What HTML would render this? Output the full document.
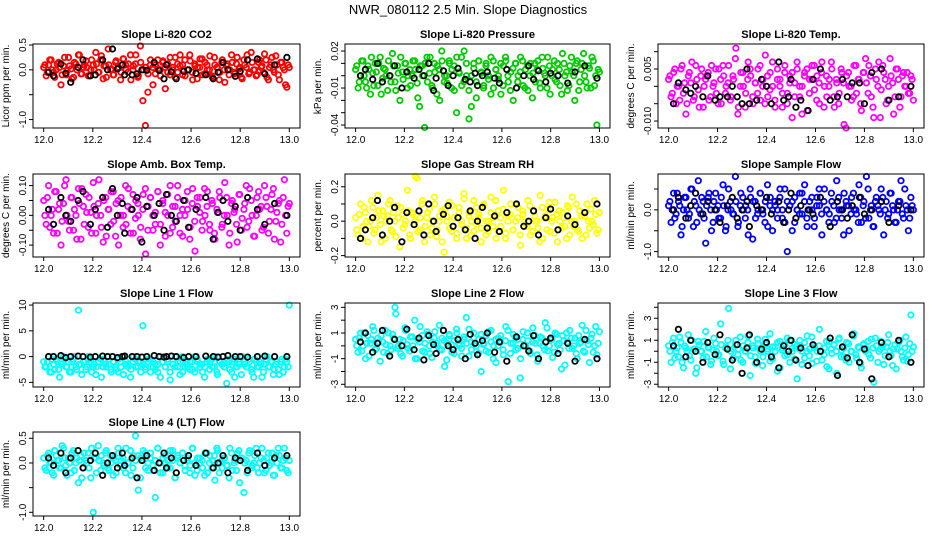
<!DOCTYPE html>
<html><head><meta charset="utf-8">
<style>
html,body{margin:0;padding:0;background:#fff;}
svg{display:block;font-family:"Liberation Sans",Arial,sans-serif;}
</style></head>
<body>
<svg id="chart" width="936" height="540" viewBox="0 0 936 540">
<text x="468" y="14" text-anchor="middle" font-size="13">NWR_080112  2.5 Min. Slope Diagnostics</text>
</svg>
<script>
// ---- shared data ----
const xTicks = [12.0, 12.2, 12.4, 12.6, 12.8, 13.0];
const xTickLabels = ["12.0","12.2","12.4","12.6","12.8","13.0"];
const blackX = [12.02,12.04,12.07,12.09,12.11,12.14,12.16,12.19,12.21,12.24,12.26,12.28,12.30,12.32,12.33,12.36,12.38,12.40,12.42,12.45,12.47,12.49,12.50,12.52,12.54,12.57,12.59,12.62,12.66,12.69,12.71,12.73,12.75,12.78,12.80,12.83,12.87,12.90,12.94,12.99];

const titles = ["Slope Li-820 CO2","Slope Li-820 Pressure","Slope Li-820 Temp.","Slope Amb. Box Temp.","Slope Gas Stream RH","Slope Sample Flow","Slope Line 1 Flow","Slope Line 2 Flow","Slope Line 3 Flow","Slope Line 4 (LT) Flow"];
const yLabels = ["Licor ppm per min.","kPa per min.","degrees C per min.","degrees C per min.","percent per min.","ml/min per min.","ml/min per min.","ml/min per min.","ml/min per min.","ml/min per min."];
const colors = ["#ff0000","#00cd00","#ff00ff","#ff00ff","#ffff00","#0000ff","#00ffff","#00ffff","#00ffff","#00ffff"];

const yTicks0 = [-1.0,-0.5,0.0,0.5]; const yTickLabels0 = ["-1.0","","0.0","0.5"];
const yTicks1 = [-0.04,-0.03,-0.02,-0.01,0.0,0.01,0.02]; const yTickLabels1 = ["-0.04","","","-0.01","","","0.02"];
const yTicks2 = [-0.010,-0.005,0.0,0.005,0.010]; const yTickLabels2 = ["-0.010","","","0.005",""];
const yTicks3 = [-0.10,-0.05,0.0,0.05,0.10]; const yTickLabels3 = ["-0.10","","0.00","","0.10"];
const yTicks4 = [-0.2,-0.1,0.0,0.1,0.2]; const yTickLabels4 = ["-0.2","","0.0","","0.2"];
const yTicks5 = [-1.0,-0.5,0.0,0.5]; const yTickLabels5 = ["-1.0","","0.0",""];
const yTicks6 = [-5,0,5,10]; const yTickLabels6 = ["-5","0","5","10"];
const yTicks7 = [-3,-2,-1,0,1,2,3]; const yTickLabels7 = ["-3","","-1","","1","","3"];
const yTicks8 = [-3,-2,-1,0,1,2,3,4]; const yTickLabels8 = ["-3","","-1","","1","","3",""];
const yTicks9 = [-1.0,-0.5,0.0,0.5]; const yTickLabels9 = ["-1.0","","0.0","0.5"];

const yMin = [-1.17,-0.0424,-0.012,-0.140,-0.208,-1.13,-5.9,-3.21,-3.25,-1.075];
const yMax = [0.52,0.0257,0.0122,0.139,0.274,0.86,10.4,3.34,4.39,0.628];

const vals0 = [0.05,-0.12,0.1,0.2,-0.05,0.0,0.15,-0.3,0.08,-0.1,0.25,0.02,-0.15,0.12,0.3,-0.08,0.05,0.18,-0.12,0.0,0.1,0.35,-0.05,0.2,-0.18,0.08,0.42,0.0,-0.1,0.15,0.05,-0.2,0.22,0.1,-0.05,0.3,0.0,0.12,-0.15,0.48,-0.62,-1.12,-0.45,0.1,0.05,-0.08,0.2,0.0,0.15,-0.38,0.12,-0.1,0.05,0.25,-0.05,0.3,0.1,-0.12,0.0,0.18,-0.2,0.08,0.05,0.22,-0.1,0.15,0.0,0.28,-0.15,0.1,0.05,-0.05,0.2,-0.25,0.12,0.0,0.15,-0.08,0.25,0.05,-0.18,0.1,0.3,-0.05,0.15,0.0,-0.1,0.2,0.08,0.32,-0.15,0.05,0.25,-0.05,0.1,-0.2,0.15,0.0,-0.35,0.05];
const valsB0 = [0.1,-0.05,0.2,0.0,-0.15,0.12,0.05,-0.1,0.25,-0.02,0.08,-0.18,0.15,0.0,0.3,-0.08,0.1,0.05,-0.12,0.2,0.0,0.12,-0.05,0.28,0.08,-0.15,0.1,0.02,-0.1,0.18,0.05,-0.05,0.22,0.0,0.12,-0.2,0.08,0.3,-0.12,0.15,0.0,0.05,-0.08,0.2,-0.3,0.1,0.02,-0.12,0.18,0.05,-0.05,0.25,0.0,-0.15,0.12,0.08,-0.1,0.2,0.0,0.3,-0.05,0.12,-0.18,0.05,0.22,-0.08,0.1,0.0,-0.12,0.25,0.05,-0.2,0.15,0.0,0.08,-0.1,0.3,-0.05,0.12,0.02,-0.15,0.2,0.05,-0.08,0.35,0.0,-0.12,0.15,0.05,-0.05,0.2,-0.2,0.1,0.0,0.28,-0.1,0.15,0.05,-0.3,0.1];
const black0 = [-0.05,-0.12,0.12,-0.07,-0.25,0.05,0.2,-0.12,-0.1,0.2,0.0,0.42,0.02,0.1,-0.1,-0.1,-0.08,0.0,-0.01,0.15,-0.01,-0.18,0.1,-0.04,-0.18,-0.03,0.0,-0.07,-0.1,-0.18,-0.05,0.15,0.0,-0.13,-0.03,0.2,0.22,-0.08,0.1,0.25];
const vals1 = [0.005,-0.01,0.0,0.012,-0.005,0.008,-0.015,0.002,0.01,-0.008,0.015,-0.002,0.005,-0.012,0.0,0.018,-0.005,0.008,-0.02,0.003,0.01,-0.01,0.005,0.0,0.012,-0.006,-0.025,0.008,-0.042,0.015,0.002,-0.008,0.01,-0.015,0.005,0.02,-0.005,0.0,0.012,-0.01,0.008,-0.03,0.003,0.015,-0.005,0.01,-0.012,0.0,0.006,-0.018,0.012,0.002,-0.008,0.01,-0.003,0.015,-0.01,0.005,0.0,-0.015,0.008,0.012,-0.005,0.003,-0.02,0.01,0.0,0.015,-0.008,0.005,-0.012,0.01,0.002,-0.005,0.012,-0.01,0.006,0.0,0.015,-0.015,0.005,-0.003,0.01,-0.008,0.018,0.0,-0.012,0.008,0.003,-0.02,0.012,-0.005,0.01,0.0,-0.01,0.006,0.015,-0.008,-0.04,0.003];
const valsB1 = [0.008,-0.005,0.012,0.0,-0.01,0.005,0.015,-0.008,0.003,0.01,-0.015,0.006,0.0,0.012,-0.005,0.008,-0.012,0.002,0.015,-0.003,0.01,0.0,-0.008,0.012,0.005,-0.018,0.008,0.0,0.01,-0.005,0.015,-0.01,0.003,0.008,-0.02,0.012,0.0,-0.006,0.01,0.005,-0.012,0.015,0.002,-0.008,0.02,0.0,-0.035,-0.025,0.01,-0.005,0.012,0.003,-0.01,0.008,0.0,-0.015,0.012,0.005,-0.003,0.01,-0.008,0.015,0.0,-0.012,0.006,0.01,-0.005,0.003,0.012,-0.01,0.008,0.0,-0.018,0.01,0.005,-0.006,0.015,0.002,-0.01,0.008,0.0,0.012,-0.005,0.005,-0.015,0.01,0.003,-0.008,0.015,0.0,0.01,-0.012,0.005,0.018,-0.005,0.008,-0.01,0.012,0.0,0.005];
const black1 = [0.0,0.005,-0.003,0.01,-0.005,0.0,0.008,-0.01,0.003,-0.002,0.005,0.0,0.01,-0.012,-0.002,0.004,-0.008,0.0,0.006,-0.003,-0.005,0.002,-0.008,0.0,0.003,-0.002,-0.006,0.005,-0.01,0.0,0.008,-0.003,0.004,-0.005,0.002,0.0,-0.006,0.003,0.008,-0.002];
const vals2 = [0.002,-0.003,0.004,-0.005,0.0,0.005,-0.002,-0.008,0.003,0.001,-0.004,0.006,-0.001,0.003,-0.006,0.002,0.004,-0.003,0.0,0.005,-0.005,0.002,0.006,-0.002,0.001,-0.004,0.003,0.008,-0.008,0.0,0.004,-0.006,0.002,0.005,-0.003,0.001,-0.002,0.006,0.0,-0.005,0.003,-0.001,0.007,-0.004,0.002,0.0,-0.006,0.004,-0.002,0.003,-0.009,0.001,0.005,-0.003,0.0,0.004,-0.007,0.002,0.006,-0.001,0.003,-0.005,0.007,0.0,-0.003,0.002,0.005,-0.006,0.001,-0.002,0.004,-0.011,0.003,0.0,-0.004,0.006,-0.002,0.002,-0.007,0.004,0.001,0.006,-0.003,-0.009,0.002,0.007,-0.001,0.004,-0.005,0.0,0.003,-0.008,0.005,0.002,-0.003,0.004,0.0,-0.002,0.003,-0.004];
const valsB2 = [0.003,-0.002,0.005,0.0,-0.004,0.006,0.001,-0.005,0.004,0.007,-0.003,0.002,-0.006,0.005,0.0,0.003,-0.004,0.006,0.001,-0.002,0.005,-0.005,0.003,0.0,0.006,-0.003,0.002,0.011,-0.006,0.004,0.0,-0.002,0.007,0.003,-0.005,0.001,0.005,-0.004,0.002,0.009,-0.003,0.004,0.0,-0.006,0.005,0.002,-0.002,0.006,-0.005,0.001,0.004,-0.003,0.007,0.0,-0.008,0.003,0.005,-0.002,0.002,0.006,-0.004,0.001,0.004,-0.006,0.003,0.0,0.007,-0.003,0.002,-0.005,0.005,0.001,-0.012,0.004,0.0,-0.003,0.006,0.002,-0.005,0.004,0.008,-0.002,0.003,-0.006,0.005,0.0,-0.009,0.006,0.002,-0.004,0.008,0.001,-0.003,0.005,-0.006,0.003,0.0,0.004,-0.002,0.002];
const black2 = [-0.005,0.001,-0.001,-0.002,0.0,-0.003,0.003,-0.004,-0.003,-0.003,0.0,-0.003,-0.005,0.005,-0.005,-0.004,0.002,0.0,-0.005,0.007,-0.004,-0.003,0.002,-0.006,-0.004,-0.007,0.002,0.005,-0.004,-0.003,0.002,-0.003,0.001,0.001,-0.005,0.004,0.005,-0.004,-0.003,0.0];
const vals3 = [0.05,-0.03,0.1,0.0,-0.06,0.08,0.02,-0.1,0.04,0.12,-0.02,0.06,-0.05,0.0,0.09,-0.08,0.03,0.07,-0.04,0.01,0.11,-0.06,0.04,0.0,-0.09,0.06,0.02,-0.03,0.08,-0.07,0.05,0.0,-0.04,0.1,0.03,-0.06,0.07,-0.01,0.04,-0.08,0.02,0.09,-0.05,0.06,0.0,-0.03,0.08,-0.1,0.04,0.01,0.07,-0.06,0.03,-0.02,0.1,0.0,-0.07,0.05,0.02,-0.04,0.09,-0.12,0.03,0.06,-0.02,0.0,0.08,-0.05,0.04,-0.08,0.01,0.06,-0.03,0.11,0.0,-0.06,0.05,0.02,-0.09,0.07,-0.01,0.04,-0.04,0.09,0.0,-0.07,0.06,0.02,-0.05,0.1,0.03,-0.02,0.07,-0.08,0.01,0.05,-0.03,0.12,-0.06,0.04];
const valsB3 = [0.0,0.06,-0.04,0.02,0.08,-0.06,0.04,-0.02,0.1,0.0,-0.05,0.06,0.02,-0.08,0.04,0.09,-0.03,0.01,0.06,-0.06,0.03,0.0,0.12,-0.04,0.05,-0.07,0.02,0.08,-0.02,0.04,-0.1,0.06,0.0,-0.03,0.09,0.02,-0.06,0.05,0.0,-0.04,0.07,-0.13,0.03,0.06,-0.05,0.01,0.08,-0.03,0.05,-0.07,0.0,0.1,-0.04,0.03,0.06,-0.06,0.02,0.0,0.08,-0.08,0.04,-0.02,0.06,0.01,-0.05,0.09,0.03,-0.03,0.05,-0.06,0.02,0.08,-0.04,0.0,0.06,-0.1,0.04,0.01,-0.03,0.07,-0.05,0.02,0.1,-0.02,0.05,-0.07,0.0,0.08,0.03,-0.04,0.06,-0.06,0.02,0.09,-0.02,0.04,-0.09,0.06,0.0,0.03];
const black3 = [0.02,-0.03,0.06,0.0,-0.02,0.05,0.08,-0.03,0.02,0.06,-0.04,0.09,0.0,0.04,-0.06,0.02,0.06,-0.09,0.03,0.0,0.04,-0.05,0.07,0.0,-0.02,0.05,-0.04,0.02,0.06,-0.08,0.01,0.05,-0.02,0.03,-0.05,0.06,0.02,-0.03,0.04,0.0];
const vals4 = [0.02,-0.08,0.1,-0.03,0.05,-0.12,0.0,0.08,-0.05,0.15,-0.02,0.06,-0.1,0.03,0.12,-0.06,0.0,0.09,-0.15,0.04,-0.02,0.18,-0.08,0.05,0.0,0.25,-0.05,0.1,-0.12,0.02,0.07,-0.04,0.14,-0.09,0.0,0.06,-0.18,0.03,0.11,-0.06,0.02,-0.1,0.08,0.0,0.16,-0.04,0.05,-0.08,0.12,-0.02,0.04,-0.12,0.09,0.0,-0.06,0.14,0.02,-0.1,0.06,-0.03,0.18,-0.07,0.03,0.1,-0.05,0.0,0.08,-0.14,0.04,-0.02,0.12,-0.08,0.06,0.0,-0.04,0.15,-0.1,0.03,0.07,-0.06,0.02,0.11,-0.12,0.0,0.05,-0.03,0.09,-0.08,0.14,0.0,-0.05,0.06,-0.1,0.03,0.1,-0.04,0.0,0.12,-0.07,0.05];
const valsB4 = [-0.05,0.04,-0.1,0.08,0.0,-0.03,0.12,-0.07,0.02,0.06,-0.12,0.03,0.0,0.1,-0.05,0.05,-0.09,0.02,0.08,-0.04,0.0,0.06,-0.1,0.04,0.26,-0.06,0.02,0.12,-0.03,0.05,-0.08,0.0,0.1,-0.05,0.03,-0.12,0.07,0.0,-0.04,0.09,0.02,-0.07,0.05,-0.02,0.13,-0.1,0.03,0.0,-0.06,0.08,0.02,-0.04,0.1,-0.08,0.0,0.05,-0.03,0.12,-0.06,0.02,0.07,-0.1,0.0,0.04,-0.05,0.1,0.02,-0.08,0.06,0.0,-0.03,0.09,-0.06,0.03,0.0,-0.12,0.08,0.02,-0.05,0.11,0.0,-0.07,0.04,0.06,-0.04,0.02,-0.1,0.08,0.0,-0.03,0.1,-0.06,0.03,0.05,-0.08,0.0,0.07,-0.02,0.04,-0.05];
const black4 = [-0.1,-0.05,0.02,0.12,-0.08,0.0,0.08,-0.12,0.05,-0.02,0.06,-0.08,0.1,0.0,-0.06,0.04,0.09,-0.03,0.02,-0.05,0.06,-0.1,0.0,0.08,-0.04,0.03,-0.06,0.05,0.1,-0.03,0.0,0.06,-0.08,0.02,0.07,-0.05,0.03,-0.02,0.05,0.1];
const vals5 = [0.1,-0.3,0.4,-0.1,0.2,-0.6,0.0,0.3,-0.2,0.5,-0.4,0.1,0.7,-0.1,0.2,-0.8,0.3,0.0,-0.3,0.4,0.1,-0.2,0.6,-0.5,0.0,0.2,-0.1,0.8,-0.4,0.1,0.3,-0.2,0.0,0.5,-0.7,0.2,-0.1,0.4,0.0,-0.3,0.6,0.1,-0.5,0.2,0.0,0.3,-0.2,0.5,-1.0,0.1,0.2,-0.3,0.0,0.4,-0.1,0.6,-0.4,0.2,0.0,-0.2,0.3,0.1,-0.6,0.5,0.0,-0.1,0.2,-0.3,0.7,0.0,-0.2,0.4,0.1,-0.5,0.3,0.0,-0.1,0.6,-0.3,0.2,0.8,-0.2,0.1,-0.4,0.3,0.0,0.5,-0.6,0.2,-0.1,0.4,0.0,-0.3,0.2,0.7,-0.2,0.1,-0.5,0.3,0.0];
const valsB5 = [0.2,0.0,-0.2,0.4,0.1,-0.4,0.3,0.0,-0.1,0.5,0.2,-0.3,0.0,0.3,-0.2,0.1,0.4,-0.5,0.2,0.0,-0.2,0.3,0.1,-0.4,0.5,0.0,-0.1,0.2,-0.3,0.4,0.0,0.1,-0.6,0.3,0.2,-0.2,0.0,0.4,-0.1,0.2,-0.4,0.3,0.0,0.1,-0.2,0.5,0.0,-0.3,0.2,0.1,-0.5,0.3,0.0,-0.1,0.4,0.2,-0.2,0.0,0.3,-0.4,0.1,0.5,-0.1,0.2,0.0,-0.3,0.4,0.1,-0.2,0.3,0.0,-0.6,0.2,0.1,-0.1,0.4,0.0,-0.3,0.3,0.1,-0.2,0.5,0.0,-0.4,0.2,0.1,-0.1,0.3,0.0,-0.2,0.4,0.1,-0.3,0.0,0.2,-0.1,0.5,0.0,-0.2,0.1];
const black5 = [0.0,0.3,-0.2,0.1,0.4,-0.1,0.2,0.0,-0.3,0.1,0.3,-0.2,0.0,0.2,-0.4,0.1,0.0,0.3,-0.1,0.2,-0.3,0.0,0.4,-0.2,0.1,0.0,-0.1,0.3,-0.4,0.2,0.0,-0.2,0.1,0.3,-0.1,0.0,0.2,-0.3,0.1,0.0];
const vals6 = [-1,-2,0,-3,-1.5,-0.5,-2.5,-1,0,-2,-1,-3,-0.5,-2,9,-1.5,-1,-2.5,0,-1,-2,-3.5,-1,-0.5,-2,-1.5,0,-2.5,-1,-2,-3,-1,0,-1.5,-2,-4,-1,-0.5,-2,-1,6,-2.5,-1,-0.5,-2,-1.5,-3,0,-1,-2,-1,-4.5,-1.5,0,-2,-1,-3,-0.5,-2,-1,-2.5,0,-1,-1.5,-3,-2,-0.5,-1,-2,0,-3.5,-1,-1.5,-2,-0.5,-2.5,-1,-4,-2,-1,0,-1.5,-2,-1,-3,-0.5,-2,-1,-4,-1.5,0,-2,-1,-2.5,-1,-3.5,-0.5,-2,-1,10];
const valsB6 = [-2,-1,-3,-0.5,-2.5,-1,-4,-1.5,-0.5,-2,-3,-1,0,-2.5,-1.5,-3.5,-1,-2,-0.5,-3,-1.5,-2,-1,-4,-0.5,-2,-1.5,-3,-1,-2.5,-0.5,-2,-3.5,-1,-1.5,-2.5,0,-2,-1,-3,-1.5,-2,-0.5,-3,-1,-2.5,-1.5,-4,-1,-2,-0.5,-3,-1.5,-2,-1,-3.5,0,-2,-1.5,-2.5,-1,-3,-0.5,-2,-1.5,-4,-1,-2.5,-0.5,-2,-3,-1,-1.5,-2,-5.2,-1,-3,-0.5,-2,-1.5,-3.5,-1,-2,-0.5,-2.5,-4,-1,-2,-1.5,-3,-0.5,-2,-1,-3.5,-1.5,-2.5,-1,-3,-0.5,-2];
const black6 = [0,0,0.2,-0.2,0,0.1,0,-0.1,0,0.1,0,0,-0.2,0,0.1,0,0,-0.1,0,0.2,0,-0.1,0,0.1,0,-0.2,0,0,0.1,0,-0.1,0,0.2,0,0,-0.1,0,0.1,0,0];
const vals7 = [0.5,-0.5,1,0,-1,0.8,0.2,1.5,-0.3,0.6,-1.2,0.3,1.2,-0.6,0,0.9,3,-0.2,0.5,-0.8,1.4,0.1,-0.4,0.7,2,-1,0.3,0.8,-0.5,1.1,0,-0.9,0.6,0.2,1.6,-0.3,0.4,-1.1,0.9,0.1,-0.6,1.3,0.2,-0.2,0.7,2.2,-0.8,0.3,1,-0.4,0.5,-2,0.1,0.8,-0.5,1.2,0,-1.3,0.6,0.3,-0.7,1.5,-2.8,0.2,0.9,-0.3,0.5,-1,1.1,0,0.4,-0.6,1.4,0.2,-1.2,0.7,0,1.8,-0.4,0.5,-0.9,1,0.1,-0.3,0.8,-1.5,0.3,1.2,-0.2,0.6,-1,0.2,1.6,-0.5,0.4,-1.3,0.9,0,-0.7,1.1];
const valsB7 = [0,0.6,-0.4,1,0.2,-0.8,0.5,1.2,-0.2,0.3,0.8,-0.5,0.1,1,-0.3,0.6,2.5,0,-0.6,0.4,1.2,-0.2,0.7,0,-1,0.5,1.5,-0.4,0.2,0.9,-0.6,0.3,1.1,0,-0.3,0.6,-1.6,0.2,0.8,-0.5,0.4,1,0,-0.8,0.5,0.2,1.3,-0.3,0.6,0,-0.6,0.9,0.2,-0.4,1.1,0.3,-1,0.5,0,0.8,-0.3,0.4,1.2,-0.6,0.2,0.7,-0.2,-2.5,0.5,0,1,-0.4,0.3,0.8,-0.7,0.2,0.6,-0.3,1.4,0,0.5,-0.5,0.9,0.2,-1.8,0.4,1,-0.2,0.6,0,-0.6,0.8,0.3,-0.4,1.2,0.1,0.6,-0.5,1.5,0.2];
const black7 = [0.3,1,-0.5,0.2,1.2,-0.8,0.5,0,1.3,-0.3,0.6,-1.1,0.8,0.1,-0.6,1.2,0,-0.3,0.5,-1,0.9,0.2,-0.7,0.4,1,-0.5,0.3,-1.2,0.7,0,-0.4,0.8,-1,0.3,0.6,-0.6,0.2,-1.2,0.5,-1];
const vals8 = [0.5,-1,1.2,0,-0.5,0.8,-1.5,0.3,1.5,-0.8,0.2,-2,0.9,0,-0.6,1.8,0.4,-1.2,0.1,0.7,-0.4,2.5,-0.9,0.3,1,-1.6,0.2,0.6,-0.3,1.3,-1,0,0.8,-2.2,0.5,-0.5,1.1,0.2,-1.3,0.7,0,1.6,-0.7,0.4,-1.8,0.9,0.1,-0.4,1.2,-1,0.3,0.6,-2.5,1,0,-0.6,1.4,0.2,-1.1,0.5,0,2,-0.8,0.3,-1.4,0.9,-0.2,0.6,-2,1.2,0.1,-0.5,0.8,-1,0,1.6,-0.6,0.3,-1.5,0.7,0.2,-0.3,1.1,-2.8,0.5,0,0.9,-1.2,0.4,1.5,-0.4,0.2,-1.6,0.8,0,-0.8,1.3,-0.3,3.3,0.4];
const valsB8 = [0,0.8,-0.6,0.3,1.3,-1,0.5,0,-0.4,1,0.2,-1.5,0.6,0,0.9,-0.5,0.3,-0.9,1.2,0,-0.3,0.6,-1.2,0.4,3.9,0,-0.6,1,0.2,-0.8,0.5,0,1.4,-0.4,0.3,-1.1,0.7,0,-0.5,1.1,0.2,-0.9,0.4,0,0.8,-1.5,0.3,0.6,-0.3,1,0,-0.7,0.5,0.2,-1.2,0.8,0,-0.4,1.3,0.3,-0.9,0.5,0,-0.3,0.9,-1.6,0.2,0.6,0,1.1,-0.5,0.3,-0.8,0.7,0,1.4,-0.3,0.4,-1.1,0.6,0,0.9,-0.6,0.3,1.2,-1,0.2,0.5,-0.4,0.8,0,-1.3,0.6,0.2,1,-0.5,0.3,-0.9,0.7,0];
const black8 = [0.5,2,-0.5,1,0,-1,0.8,-0.3,1.5,0.2,-0.8,0.6,-2,0.3,1.5,-1,0.2,0.8,-0.5,-1.5,0.5,0,1,-0.8,0.3,-1.3,0.6,0,1.2,-2.2,0.4,-0.6,1.5,-1,0.2,-2.5,0.8,-0.5,1,-1];
const vals9 = [0.1,-0.15,0.2,0.0,-0.25,0.15,0.05,-0.1,0.3,-0.05,0.1,-0.2,0.25,0.0,-0.4,0.15,-0.1,0.05,0.2,-0.3,-1.0,0.1,0.35,-0.15,0.0,0.2,-0.1,0.15,-0.25,0.05,0.3,-0.05,0.1,-0.2,0.0,0.25,-0.1,0.55,0.15,-0.3,0.05,0.2,-0.15,0.1,-0.05,-0.7,0.3,0.0,-0.2,0.15,0.05,-0.1,0.25,-0.3,0.1,0.0,0.2,-0.15,0.05,-0.05,0.3,-0.25,0.1,0.0,-0.1,0.2,-0.2,0.15,0.05,-0.35,0.25,0.0,-0.1,0.1,-0.05,0.3,-0.15,0.05,0.2,-0.4,0.1,0.0,-0.2,0.25,-0.05,0.15,-0.1,0.0,0.3,-0.2,0.1,-0.05,0.2,-0.25,0.0,0.15,-0.1,0.3,-0.15,0.05];
const valsB9 = [-0.1,0.15,0.0,-0.2,0.25,0.05,-0.1,0.35,0.1,-0.25,0.0,0.2,-0.15,0.1,0.05,-0.3,0.2,0.0,-0.1,0.3,0.1,-0.2,0.05,0.15,-0.05,0.25,-0.15,0.0,0.1,-0.2,0.2,0.05,-0.1,0.3,0.0,-0.25,0.15,0.05,-0.55,0.1,0.25,-0.1,0.0,0.2,-0.15,0.05,0.3,-0.2,0.1,0.0,-0.1,0.25,0.05,-0.3,0.15,0.0,0.2,-0.05,0.1,-0.2,0.3,0.0,-0.15,0.1,0.05,-0.25,0.2,0.0,-0.1,0.15,0.3,-0.2,0.05,0.1,-0.05,-0.3,0.2,0.0,-0.15,0.25,0.1,-0.6,0.05,0.2,-0.1,0.0,0.3,-0.2,0.1,0.05,-0.15,0.2,0.0,-0.25,0.15,0.3,-0.1,0.05,0.1,-0.2];
const black9 = [0.1,-0.05,0.2,-0.2,0.1,0.25,-0.1,0.05,0.2,-0.25,0.0,0.15,-0.1,0.2,-0.05,0.1,-0.3,0.05,0.15,-0.15,0.0,0.2,-0.1,0.1,-0.2,0.05,0.15,-0.05,0.2,-0.1,0.0,0.15,-0.2,0.1,0.05,-0.15,0.2,-0.05,0.1,0.15];

const allVals = [vals0,vals1,vals2,vals3,vals4,vals5,vals6,vals7,vals8,vals9];
const allValsB = [valsB0,valsB1,valsB2,valsB3,valsB4,valsB5,valsB6,valsB7,valsB8,valsB9];
const allBlack = [black0,black1,black2,black3,black4,black5,black6,black7,black8,black9];
const allYTicks = [yTicks0,yTicks1,yTicks2,yTicks3,yTicks4,yTicks5,yTicks6,yTicks7,yTicks8,yTicks9];
const allYTickLabels = [yTickLabels0,yTickLabels1,yTickLabels2,yTickLabels3,yTickLabels4,yTickLabels5,yTickLabels6,yTickLabels7,yTickLabels8,yTickLabels9];

const NS = "http://www.w3.org/2000/svg";
const svg = document.getElementById('chart');
const colL = [33, 345, 658], colR = [300, 610, 924];
const rowT = [44, 174, 303, 432], rowB = [128, 257, 387, 516];
function mk(tag, attrs, parent){ const e = document.createElementNS(NS, tag); for (const k in attrs) e.setAttribute(k, attrs[k]); (parent||svg).appendChild(e); return e; }

for (let p = 0; p < 10; p++) {
  const c = p % 3, r = Math.floor(p / 3);
  const L = colL[c], R = colR[c], T = rowT[r], B = rowB[r];
  const xs = v => L + (R - L) * (0.04 + 0.92 * (v - 12.0));
  const ys = v => B - (v - yMin[p]) / (yMax[p] - yMin[p]) * (B - T);
  const g = mk('g', {});
  
  
  const t = mk('text', {x: (L + R) / 2, y: T - 6, 'text-anchor': 'middle', 'font-size': 11, 'font-weight': 'bold'}, g);
  t.textContent = titles[p];
  
  
  const yl = mk('text', {x: 0, y: 0, 'text-anchor': 'middle', 'font-size': 10, transform: `translate(${L - 24},${(T + B) / 2}) rotate(-90)`}, g);
  yl.textContent = yLabels[p];
  
  
  const pts = mk('g', {fill: 'none', stroke: colors[p], 'stroke-width': 1.8}, g);
  
  
  const vals = allVals[p], valsB = allValsB[p];
  for (let i = 0; i < vals.length; i++) {
    const tx = 12.0 + i / (vals.length - 1);
    const cc = mk('circle', {cx: xs(tx).toFixed(1), cy: ys(vals[i]).toFixed(1), r: 2.7}, pts);
    
    
  }
  for (let i = 0; i < valsB.length; i++) {
    const tx = 12.005 + i / valsB.length;
    const cc = mk('circle', {cx: xs(tx).toFixed(1), cy: ys(valsB[i]).toFixed(1), r: 2.7}, pts);
    
    
  }
  const bp = mk('g', {fill: 'none', stroke: '#000', 'stroke-width': 1.8}, g);
  
  
  const bv = allBlack[p];
  for (let i = 0; i < bv.length; i++) {
    const cc = mk('circle', {cx: xs(blackX[i]).toFixed(1), cy: ys(bv[i]).toFixed(1), r: 2.7}, bp);
    
    
  }
  const box = mk('rect', {x: L, y: T, width: R - L, height: B - T, fill: 'none', stroke: '#000', 'stroke-width': 1}, g);
  
  
  const xa = mk('g', {'font-size': 10}, g);
  
  
  for (let i = 0; i < xTicks.length; i++) {
    const x = xs(xTicks[i]);
    mk('line', {x1: x, x2: x, y1: B, y2: B + 4, stroke: '#000'}, xa);
    const tl = mk('text', {x: x, y: B + 15, 'text-anchor': 'middle'}, xa);
    tl.textContent = xTickLabels[i];
    
    
  }
  const ya = mk('g', {'font-size': 10}, g);
  
  
  const ytv = allYTicks[p], ytl = allYTickLabels[p];
  for (let i = 0; i < ytv.length; i++) {
    const y = ys(ytv[i]);
    mk('line', {x1: L - 4, x2: L, y1: y, y2: y, stroke: '#000'}, ya);
    if (ytl[i]) {
      const tl = mk('text', {x: 0, y: 0, 'text-anchor': 'middle', transform: `translate(${L - 7},${y}) rotate(-90)`}, ya);
      tl.textContent = ytl[i];
      
      
    }
  }
}
</script>
</body></html>
